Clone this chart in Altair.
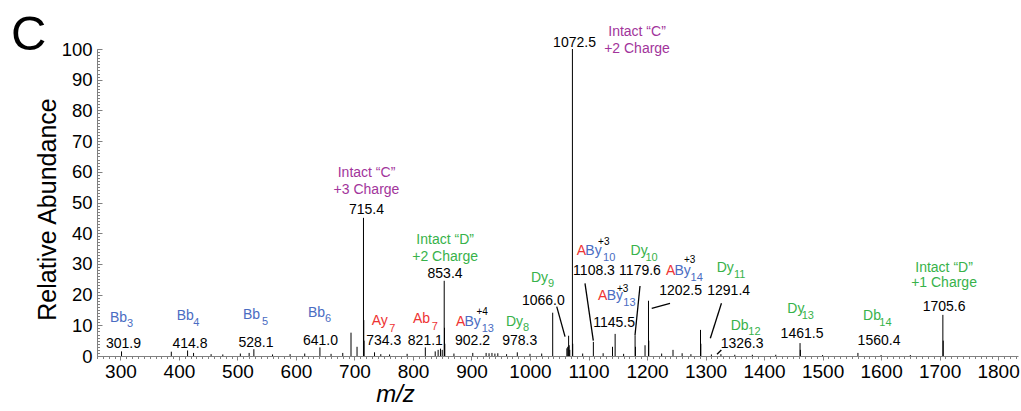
import altair as alt
import pandas as pd

# ---------------------------------------------------------------- spectrum
# Annotated peaks (m/z, relative abundance)
labeled_mz = [301.9, 414.8, 528.1, 641.0, 715.4, 734.3, 821.1, 853.4, 902.2, 978.3,
              1066.0, 1072.5, 1108.3, 1145.5, 1179.6, 1202.5, 1291.4, 1326.3,
              1461.5, 1560.4, 1705.6]
labeled_int = [1.5, 1.8, 2.2, 2.8, 45.0, 1.2, 2.8, 24.5, 1.0, 1.2,
               6.6, 100.0, 4.6, 7.2, 6.8, 18.0, 8.5, 0.6,
               4.2, 1.0, 13.4]

# Other (unlabelled) peaks, isotope shoulders and baseline signal
other_mz = [387.0, 425.0, 455.0, 475.0, 505.0, 520.0, 560.0, 590.0, 615.0, 660.0,
            680.0, 694.1, 704.4, 715.9, 716.4, 745.0, 760.0, 790.0, 838.0, 843.0,
            847.0, 850.0, 853.9, 854.4, 870.0, 925.0, 930.0, 935.0, 940.0, 945.0,
            960.0, 1000.0, 1020.0, 1038.8, 1063.0, 1064.5, 1067.0, 1068.0, 1073.0,
            1090.0, 1125.0, 1141.0, 1160.0, 1180.3, 1196.6, 1203.0, 1225.0, 1244.4,
            1260.0, 1275.0, 1292.0, 1310.0, 1350.0, 1380.0, 1420.0, 1462.1, 1500.0,
            1600.0, 1650.0, 1706.2]
other_int = [1.4, 1.0, 0.6, 0.5, 0.8, 1.0, 0.5, 0.6, 0.8, 0.7,
             1.0, 7.6, 3.0, 11.7, 5.0, 0.6, 0.5, 0.7, 1.5, 2.0,
             2.4, 2.0, 9.2, 4.0, 0.8, 1.0, 0.9, 1.0, 0.8, 0.9,
             0.6, 0.7, 0.8, 14.1, 2.5, 3.0, 3.5, 2.0, 4.0,
             0.8, 0.9, 3.0, 0.7, 3.0, 3.5, 5.0, 0.8, 2.0,
             0.9, 0.6, 4.0, 0.5, 0.4, 0.4, 0.4, 2.0, 0.3,
             0.3, 0.3, 5.0]

# ------------------------------------------------------------- annotations
# m/z value labels: anchor (centre, baseline) for each annotated peak
value_x = [305.3, 418.9, 531.7, 642.0, 720.6, 750.0, 821.1, 854.8, 901.8, 982.4,
           1022.8, 1076.1, 1109.4, 1143.6, 1188.0, 1257.3, 1339.5, 1362.4,
           1464.9, 1596.5, 1707.6]
value_y = [2.61, 2.61, 2.93, 3.58, 46.25, 3.58, 3.58, 25.31, 3.58, 3.58,
           16.6, 100.75, 26.4, 9.35, 26.4, 19.87, 19.87, 2.51,
           5.77, 3.58, 14.66]

# Intact precursor labels (two lines each)
intact_line1 = ["Intact \u201cC\u201d", "Intact \u201cD\u201d", "Intact \u201cC\u201d", "Intact \u201cD\u201d"]
intact_line2 = ["+3 Charge", "+2 Charge", "+2 Charge", "+1 Charge"]
intact_chain = ["C", "D", "C", "D"]
intact_x = [720.6, 855.0, 1182.9, 1707.6]
intact_y1 = [58.2, 36.48, 104.2, 27.46]
intact_y2 = [52.77, 31.04, 98.6, 22.38]

# Fragment ion names: main glyphs (left edge, baseline)
ion_text = ["Bb", "Bb", "Bb", "Bb", "Ay", "Ab", "A", "By", "Dy", "Dy",
            "A", "By", "Dy", "A", "By", "A", "By", "Dy", "Db", "Dy", "Db"]
ion_chain = ["B", "B", "B", "B", "A", "A", "A", "B", "D", "D",
             "A", "B", "D", "A", "B", "A", "B", "D", "D", "D", "D"]
ion_x = [282.2, 396.2, 509.5, 620.6, 729.5, 800.1, 873.6, 888.1, 959.0, 1001.7,
         1079.9, 1094.6, 1171.8, 1116.3, 1131.1, 1232.5, 1247.0, 1319.1, 1343.1, 1439.8, 1569.2]
ion_y = [11.17, 11.73, 12.05, 12.80, 10.10, 10.65, 9.77, 9.77, 9.93, 24.20,
         32.90, 32.90, 32.90, 18.24, 18.24, 26.38, 26.38, 27.46, 8.47, 13.91, 11.73]

# Fragment ion subscripts
sub_text = ["3", "4", "5", "6", "7", "7", "13", "8", "9", "10", "10", "13", "14",
            "11", "12", "13", "14"]
sub_chain = ["B", "B", "B", "B", "A", "A", "B", "D", "D", "B", "D", "B", "B",
             "D", "D", "D", "D"]
sub_x = [311.3, 424.6, 542.0, 649.7, 759.6, 832.0, 917.5, 988.1, 1030.8, 1124.8, 1197.4,
         1159.5, 1274.4, 1348.7, 1373.1, 1464.4, 1597.0]
sub_y = [9.45, 9.93, 10.26, 11.07, 7.92, 8.47, 7.98, 8.14, 22.48, 30.94, 30.94,
         16.29, 24.43, 25.57, 6.68, 12.05, 9.93]

# Charge-state superscripts
sup_text = ["+4", "+3", "+3", "+3"]
sup_x = [908.6, 1116.3, 1148.7, 1263.2]
sup_y = [13.35, 36.16, 20.94, 30.29]

# Leader lines from labels to their peaks
lead_x1 = [1045.7, 1094.0, 1188.0, 1239.3, 1327.2, 1327.0]
lead_y1 = [16.06, 23.68, 22.80, 17.17, 17.17, 1.95]
lead_x2 = [1059.9, 1108.2, 1179.5, 1208.0, 1308.2, 1319.6]
lead_y2 = [6.29, 4.98, 6.84, 15.54, 5.77, 0.55]

# ------------------------------------------------------------------ tables
spectrum = pd.DataFrame({
    "mz": labeled_mz + other_mz,
    "abundance": labeled_int + other_int,
})
spectrum["floor"] = 0.0

values = pd.DataFrame({"mz": value_x, "ab": value_y,
                       "label": [f"{v:.1f}" for v in labeled_mz]})
intact = pd.DataFrame({
    "mz": intact_x + intact_x,
    "ab": intact_y1 + intact_y2,
    "label": intact_line1 + intact_line2,
    "chain": intact_chain + intact_chain,
})
ions = pd.DataFrame({"mz": ion_x, "ab": ion_y, "label": ion_text, "chain": ion_chain})
subs = pd.DataFrame({"mz": sub_x, "ab": sub_y, "label": sub_text, "chain": sub_chain})
sups = pd.DataFrame({"mz": sup_x, "ab": sup_y, "label": sup_text})
leads = pd.DataFrame({"x1": lead_x1, "y1": lead_y1, "x2": lead_x2, "y2": lead_y2})
panel = pd.DataFrame({"label": ["C"]})

# ------------------------------------------------------------------ scales
W, H = 921, 307
x_scale = alt.Scale(domain=[260, 1834], nice=False, zero=False)
y_scale = alt.Scale(domain=[0, 100], nice=False, zero=False)
chain_color = alt.Color(
    "chain:N",
    scale=alt.Scale(domain=["A", "B", "C", "D"],
                    range=["#ee3333", "#4a6cc2", "#a2349b", "#37b24a"]),
    legend=None,
)

AXIS_GREY = "#808080"
major_x = list(range(300, 1801, 100))
minor_x = list(range(260, 1831, 10))
major_y = list(range(0, 101, 10))
minor_y = list(range(0, 101, 1))

TXT = "Liberation Sans"


def xq(field="mz", axis=None):
    return alt.X(f"{field}:Q", scale=x_scale, axis=axis)


def yq(field="ab", axis=None):
    return alt.Y(f"{field}:Q", scale=y_scale, axis=axis)


# ------------------------------------------------------------------ layers
sticks = alt.Chart(spectrum).mark_rule(color="black", strokeWidth=1).encode(
    x=xq("mz", alt.Axis(
        orient="bottom", values=major_x, grid=False, format="d",
        tickSize=4, tickColor=AXIS_GREY, tickWidth=1,
        domainColor=AXIS_GREY, domainWidth=1,
        labelFont=TXT, labelFontSize=19,
        labelColor="black", labelPadding=2, labelFlush=False,
        title="m/z", titleFont=TXT, titleFontSize=24, titleFontStyle="italic",
        titleFontWeight="normal", titleColor="black",
        titleX=298, titleY=45, titleAlign="center", titleBaseline="alphabetic",
    )),
    y=yq("abundance", alt.Axis(
        orient="left", values=major_y, grid=False, ticks=False, tickSize=0,
        domainColor=AXIS_GREY, domainWidth=1,
        labelFont=TXT, labelFontSize=18.5, labelColor="black", labelPadding=5,
        title="Relative Abundance", titleFont=TXT,
        titleFontSize=25, titleFontWeight="normal", titleColor="black",
        titleX=-42, titleY=160, titleAngle=-90, titleAlign="center",
        titleBaseline="alphabetic",
    )),
    y2="floor:Q",
)

minor_ticks = alt.Chart(spectrum).mark_rule(opacity=0).encode(
    x=xq("mz", alt.Axis(orient="bottom", values=minor_x, grid=False, labels=False,
                        domain=False, tickSize=2.5, tickColor=AXIS_GREY, title=None)),
    y=yq("abundance", alt.Axis(orient="right", offset=-W, values=minor_y, grid=False,
                               labels=False, domain=False, tickSize=2.5,
                               tickColor=AXIS_GREY, title=None)),
)

major_ticks = alt.Chart(spectrum).mark_rule(opacity=0).encode(
    x=xq("mz"),
    y=yq("abundance", alt.Axis(orient="right", offset=-W, values=major_y, grid=False,
                               labels=False, domain=False, tickSize=5,
                               tickColor=AXIS_GREY, title=None)),
)

leaders = alt.Chart(leads).mark_rule(color="black", strokeWidth=1.3).encode(
    x=xq("x1"), y=yq("y1"), x2="x2:Q", y2="y2:Q",
)

value_text = alt.Chart(values).mark_text(
    font=TXT, fontSize=14, align="center", baseline="alphabetic", color="black"
).encode(x=xq(), y=yq(), text="label:N")

intact_text = alt.Chart(intact).mark_text(
    font=TXT, fontSize=14, align="center", baseline="alphabetic"
).encode(x=xq(), y=yq(), text="label:N", color=chain_color)

ion_main = alt.Chart(ions).mark_text(
    font=TXT, fontSize=14, align="left", baseline="alphabetic"
).encode(x=xq(), y=yq(), text="label:N", color=chain_color)

ion_sub = alt.Chart(subs).mark_text(
    font=TXT, fontSize=11, align="left", baseline="alphabetic"
).encode(x=xq(), y=yq(), text="label:N", color=chain_color)

ion_sup = alt.Chart(sups).mark_text(
    font=TXT, fontSize=10, align="left", baseline="alphabetic", color="black"
).encode(x=xq(), y=yq(), text="label:N")

panel_letter = alt.Chart(panel).mark_text(
    font=TXT, fontSize=49, align="left", baseline="alphabetic", color="black"
).encode(x=alt.value(-86), y=alt.value(1), text="label:N")

chart = (
    alt.layer(sticks, minor_ticks, major_ticks, leaders, value_text, intact_text,
              ion_main, ion_sub, ion_sup, panel_letter)
    .resolve_axis(x="independent", y="independent")
    .properties(
        width=W, height=H,
        autosize=alt.AutoSizeParams(type="none"),
        padding={"left": 97, "top": 49, "right": 3, "bottom": 55},
        background="white",
    )
    .configure_view(stroke=None)
)

chart.save("out.html", embed_options={"renderer": "svg", "actions": False})
